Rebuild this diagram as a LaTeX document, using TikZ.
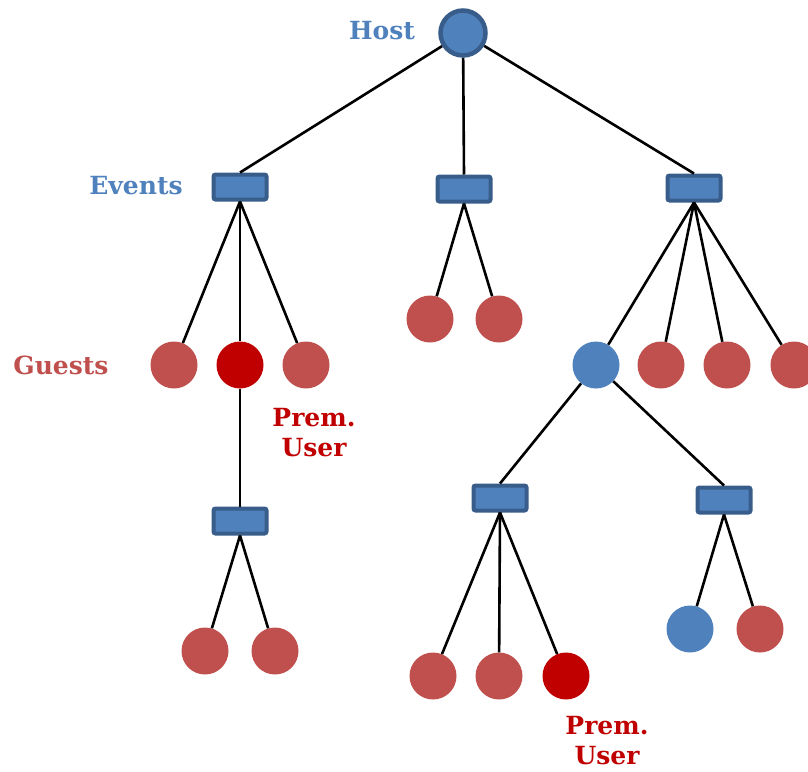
\documentclass[tikz,border=0pt]{standalone}
\usepackage{fontspec}
\setmainfont{DejaVu Serif}
\definecolor{hostblue}{HTML}{4F81BD}
\definecolor{hostedge}{HTML}{385D8A}
\definecolor{guestred}{HTML}{C0504D}
\definecolor{premred}{HTML}{C00000}
\tikzset{
  hostnode/.style={circle,fill=hostblue,draw=hostedge,line width=4.5pt,minimum size=45pt,inner sep=0pt},
  eventbox/.style={rectangle,rounded corners=2pt,fill=hostblue,draw=hostedge,line width=4pt,minimum width=53pt,minimum height=25pt,inner sep=0pt},
  guest/.style={circle,fill=guestred,minimum size=47pt,inner sep=0pt},
  premguest/.style={circle,fill=premred,minimum size=47pt,inner sep=0pt},
  subhost/.style={circle,fill=hostblue,minimum size=47pt,inner sep=0pt},
  link/.style={black,line width=2.6pt},
  lbl/.style={font=\fontsize{25}{30}\selectfont\bfseries,inner sep=0pt},
}
\begin{document}
\begin{tikzpicture}[x=1pt,y=-1pt]
\useasboundingbox (0,0) rectangle (808,771);
% nodes
\node[hostnode] (host) at (463,33) {};
\node[eventbox] (e1) at (240,187) {};
\node[eventbox] (e2) at (464,189) {};
\node[eventbox] (e3) at (694,188) {};
\node[eventbox] (e4) at (240,521) {};
\node[eventbox] (e5) at (500,498) {};
\node[eventbox] (e6) at (724,500) {};
\node[guest] (g1) at (174,365) {};
\node[premguest] (g2) at (240,365) {};
\node[guest] (g3) at (306,365) {};
\node[guest] (g4) at (430,319) {};
\node[guest] (g5) at (499,319) {};
\node[subhost] (h2) at (596,365) {};
\node[guest] (g6) at (661,365) {};
\node[guest] (g7) at (727,365) {};
\node[guest] (g8) at (794,365) {};
\node[guest] (g9) at (205,651) {};
\node[guest] (g10) at (275,651) {};
\node[guest] (g11) at (433,676) {};
\node[guest] (g12) at (499,676) {};
\node[premguest] (g13) at (566,676) {};
\node[subhost] (h3) at (690,629) {};
\node[guest] (g14) at (760,629) {};
% labels
\node[lbl,text=hostblue] (lhost) at (382,31) {Host};
\node[lbl,text=hostblue] (levents) at (136,186) {Events};
\node[lbl,text=guestred] (lguests) at (61,365) {Guests};
\node[lbl,text=premred,align=center] (lprem1) at (314,433) {Prem.\\User};
\node[lbl,text=premred,align=center] (lprem2) at (607,741) {Prem.\\User};
% connectors
\draw[link] (host) -- (e1.north);
\draw[link] (host) -- (e2.north);
\draw[link] (host) -- (e3.north);
\draw[link] (e1.south) -- (g1);
\draw[link] (e1.south) -- (g2);
\draw[link] (e1.south) -- (g3);
\draw[link] (e2.south) -- (g4);
\draw[link] (e2.south) -- (g5);
\draw[link] (e3.south) -- (h2);
\draw[link] (e3.south) -- (g6);
\draw[link] (e3.south) -- (g7);
\draw[link] (e3.south) -- (g8);
\draw[link] (g2) -- (e4.north);
\draw[link] (e4.south) -- (g9);
\draw[link] (e4.south) -- (g10);
\draw[link] (h2) -- (e5.north);
\draw[link] (h2) -- (e6.north);
\draw[link] (e5.south) -- (g11);
\draw[link] (e5.south) -- (g12);
\draw[link] (e5.south) -- (g13);
\draw[link] (e6.south) -- (h3);
\draw[link] (e6.south) -- (g14);
\end{tikzpicture}
\end{document}
